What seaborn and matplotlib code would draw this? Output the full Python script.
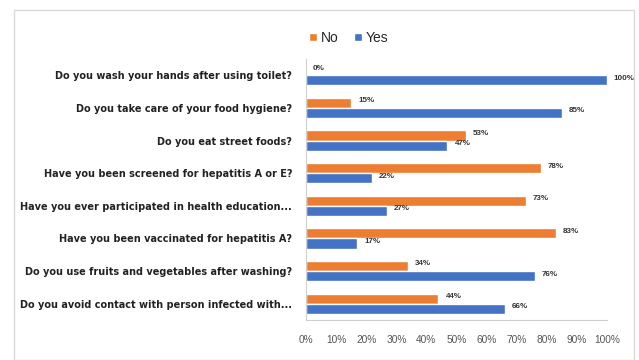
import matplotlib
matplotlib.use("Agg")
import matplotlib.pyplot as plt
import seaborn as sns
import pandas as pd
from matplotlib.patches import Rectangle, Patch

questions = [
    "Do you wash your hands after using toilet?",
    "Do you take care of your food hygiene?",
    "Do you eat street foods?",
    "Have you been screened for hepatitis A or E?",
    "Have you ever participated in health education...",
    "Have you been vaccinated for hepatitis A?",
    "Do you use fruits and vegetables after washing?",
    "Do you avoid contact with person infected with...",
]
no_vals = [0, 15, 53, 78, 73, 83, 34, 44]
yes_vals = [100, 85, 47, 22, 27, 17, 76, 66]
series = ["No", "Yes"]
colors = {"No": "#ED7D31", "Yes": "#4472C4"}
xticks = [0, 10, 20, 30, 40, 50, 60, 70, 80, 90, 100]

df = pd.DataFrame({
    "Question": questions * 2,
    "Answer": ["No"] * len(questions) + ["Yes"] * len(questions),
    "Value": no_vals + yes_vals,
})

sns.set_theme(style="white")
plt.rcParams["font.family"] = ["Liberation Sans", "DejaVu Sans"]

fig = plt.figure(figsize=(6.39, 3.6), dpi=100)
ax = fig.add_axes([306/639, 1 - 320/360, (607 - 306)/639, (320 - 59)/360])

sns.barplot(data=df, y="Question", x="Value", hue="Answer", order=questions,
            hue_order=series, palette=colors, orient="h", width=0.62,
            saturation=1, ax=ax, legend=False)

for container in ax.containers:
    for bar in container:
        w = bar.get_width()
        y = bar.get_y() + bar.get_height() / 2
        ax.annotate(f"{w:.0f}%", (w, y), xytext=(5, 1.5), textcoords="offset points",
                    ha="left", va="center", fontsize=5.8, fontweight="bold", color="#333333")

ax.set_xlim(0, 100)
ax.set_ylim(7.5, -0.5)
ax.set_xticks(xticks)
ax.set_xticklabels([f"{t}%" for t in xticks], fontsize=7.3, color="#555555")
ax.set_yticks(range(len(questions)))
ax.set_yticklabels(questions, fontsize=7, fontweight="bold", color="#222222",
                   family="DejaVu Sans")
ax.tick_params(axis="y", length=0, pad=10)
ax.tick_params(axis="x", length=0, pad=11)
ax.set_xlabel("")
ax.set_ylabel("")
for s in ["top", "right"]:
    ax.spines[s].set_visible(False)
ax.spines["bottom"].set_color("#d0d0d0")
ax.spines["left"].set_color("#d0d0d0")
ax.spines["bottom"].set_linewidth(0.8)
ax.spines["left"].set_linewidth(0.8)

handles = [Patch(facecolor=colors[s], label=s) for s in series]
fig.legend(handles=handles, loc="center", bbox_to_anchor=(349/639, 1 - 38/360), ncol=2,
           frameon=False, fontsize=10, handlelength=0.55, handleheight=0.55,
           handletextpad=0.3, columnspacing=1.1)

fig.patches.append(Rectangle((14/639, 0.0), (634 - 14)/639, 1 - 10/360,
                             transform=fig.transFigure, fill=False,
                             edgecolor="#d9d9d9", linewidth=1.0))

fig.savefig("out.png", dpi=100)
